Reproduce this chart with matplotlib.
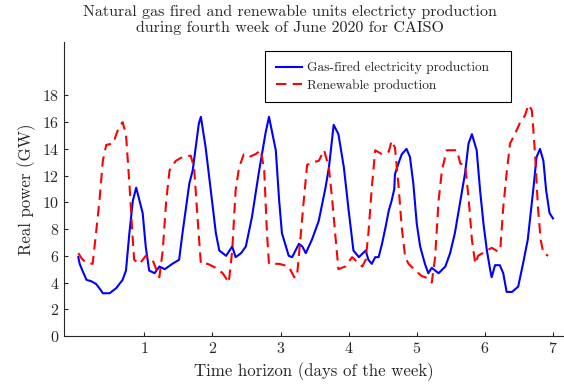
import matplotlib
matplotlib.use("Agg")
import matplotlib.pyplot as plt

plt.rcParams['font.family'] = 'serif'
plt.rcParams['font.serif'] = ['cmr10', 'DejaVu Serif']
plt.rcParams['mathtext.fontset'] = 'cm'
plt.rcParams['axes.unicode_minus'] = False
plt.rcParams['axes.formatter.use_mathtext'] = True

# gas-fired production (GW), time in days
t_gas = [0.03, 0.05, 0.09, 0.15, 0.22, 0.29, 0.35, 0.39, 0.49, 0.59, 0.68, 0.73,
         0.78, 0.83, 0.88, 0.93, 0.975, 1.02, 1.07, 1.15, 1.22, 1.30, 1.41, 1.51,
         1.56, 1.66, 1.71, 1.80, 1.83, 1.90, 1.98, 2.05, 2.10, 2.20, 2.29, 2.34,
         2.42, 2.49, 2.58, 2.68, 2.78, 2.83, 2.93, 2.98, 3.02, 3.12, 3.17, 3.27,
         3.32, 3.37, 3.46, 3.56, 3.66, 3.71, 3.78, 3.85, 3.93, 4.00, 4.07, 4.15,
         4.25, 4.29, 4.34, 4.39, 4.44, 4.49, 4.54, 4.59, 4.63, 4.67, 4.68, 4.73,
         4.78, 4.85, 4.90, 4.95, 5.00, 5.05, 5.12, 5.17, 5.22, 5.32, 5.42, 5.49,
         5.56, 5.64, 5.71, 5.76, 5.81, 5.88, 5.93, 5.98, 6.03, 6.08, 6.10, 6.15,
         6.22, 6.27, 6.32, 6.40, 6.49, 6.56, 6.63, 6.71, 6.76, 6.81, 6.86, 6.90,
         6.95, 7.00]
gas = [5.9, 5.4, 4.9, 4.2, 4.1, 3.9, 3.5, 3.2, 3.2, 3.6, 4.2, 4.9,
       7.7, 10.1, 11.1, 10.1, 9.2, 6.7, 4.9, 4.7, 5.2, 5.0, 5.4, 5.7,
       7.7, 11.4, 12.4, 15.9, 16.4, 14.1, 10.7, 7.7, 6.4, 6.0, 6.7, 5.9,
       6.2, 6.7, 8.9, 12.2, 15.2, 16.4, 13.9, 10.1, 7.7, 6.0, 5.9, 6.9,
       6.7, 6.2, 7.2, 8.6, 11.1, 12.6, 15.8, 15.1, 12.6, 9.4, 6.4, 5.9,
       6.4, 5.7, 5.4, 5.9, 5.9, 6.9, 8.1, 9.4, 10.1, 11.0, 12.1, 12.9,
       13.6, 14.0, 13.4, 11.4, 8.4, 6.7, 5.4, 4.7, 5.1, 4.7, 5.2, 6.2,
       7.7, 10.1, 12.2, 14.4, 15.1, 13.9, 10.9, 8.4, 6.4, 4.9, 4.4, 5.3,
       5.3, 4.7, 3.3, 3.3, 3.7, 5.4, 7.2, 10.9, 13.4, 14.0, 13.1, 10.9,
       9.2, 8.8]

# renewable production (GW), time in days
t_ren = [0.03, 0.08, 0.14, 0.24, 0.29, 0.34, 0.39, 0.44, 0.54, 0.61, 0.68, 0.73,
         0.78, 0.83, 0.85, 0.93, 1.02, 1.12, 1.22, 1.27, 1.32, 1.37, 1.46, 1.56,
         1.68, 1.73, 1.78, 1.83, 1.93, 2.05, 2.15, 2.24, 2.29, 2.34, 2.39, 2.46,
         2.54, 2.63, 2.71, 2.76, 2.80, 2.83, 2.98, 3.12, 3.20, 3.24, 3.29, 3.34,
         3.39, 3.46, 3.56, 3.64, 3.71, 3.76, 3.81, 3.85, 3.95, 4.05, 4.20, 4.25,
         4.29, 4.34, 4.39, 4.49, 4.59, 4.63, 4.68, 4.73, 4.78, 4.83, 4.88, 4.98,
         5.07, 5.17, 5.22, 5.27, 5.32, 5.37, 5.44, 5.51, 5.59, 5.64, 5.71, 5.76,
         5.81, 5.86, 5.90, 6.00, 6.10, 6.20, 6.23, 6.27, 6.32, 6.37, 6.44, 6.52,
         6.59, 6.64, 6.69, 6.71, 6.74, 6.78, 6.82, 6.86, 6.93]
ren = [6.2, 5.8, 5.5, 5.4, 7.7, 10.1, 13.1, 14.3, 14.4, 15.4, 16.0, 15.1,
       11.4, 7.2, 5.7, 5.4, 6.0, 5.7, 4.4, 6.4, 10.1, 12.4, 13.1, 13.4,
       13.5, 12.6, 8.9, 5.4, 5.4, 5.1, 4.7, 4.0, 6.4, 10.9, 12.6, 13.6,
       13.4, 13.6, 13.9, 12.4, 7.7, 5.4, 5.4, 5.2, 4.4, 4.4, 7.2, 10.1,
       12.8, 13.0, 13.1, 13.9, 12.6, 10.1, 7.2, 5.0, 5.2, 5.9, 5.2, 5.7,
       7.7, 11.1, 13.9, 13.6, 13.8, 14.6, 14.1, 11.4, 8.1, 5.9, 5.4, 4.9,
       4.5, 4.3, 4.0, 5.9, 10.1, 12.4, 13.9, 13.9, 13.9, 12.9, 12.8, 10.4,
       7.2, 5.4, 6.0, 6.3, 6.6, 6.3, 6.7, 9.6, 12.2, 14.4, 15.1, 16.0,
       16.5, 17.3, 16.9, 15.6, 13.4, 9.6, 7.2, 6.2, 6.0]

yticks = list(range(0, 20, 2))
xticks = [1, 2, 3, 4, 5, 6, 7]
txt = '#262626'

fig = plt.figure(figsize=(5.64, 3.86), dpi=100)
ax = fig.add_axes([0.1135, 0.1295, 0.885, 0.7617])

ax.plot(t_gas, gas, color='blue', lw=1.5, label='Gas-fired electricity production')
ax.plot(t_ren, ren, color='red', lw=1.5, dashes=(5, 3), label='Renewable production')

ax.set_xlim(-0.18, 7.15)
ax.set_ylim(0, 22)
ax.set_xticks(xticks)
ax.set_yticks(yticks)
for s in ['top', 'right']:
    ax.spines[s].set_visible(False)
for s in ['left', 'bottom']:
    ax.spines[s].set_color(txt)
    ax.spines[s].set_linewidth(0.8)
ax.tick_params(direction='in', length=3, width=0.8, colors=txt, labelsize=11.5)

ax.set_xlabel('Time horizon (days of the week)', fontsize=12.1, color=txt, labelpad=5)
ax.set_ylabel('Real power (GW)', fontsize=12.1, color=txt, labelpad=4)
fig.text(0.514, 1 - 4.5 / 386,
         'Natural gas fired and renewable units electricty production\n'
         'during fourth week of June 2020 for CAISO',
         ha='center', va='top', fontsize=11.5, color=txt, linespacing=1.2)

leg = ax.legend(loc='upper left', bbox_to_anchor=(0.4028, 0.0, 0.493, 0.969),
                mode='expand', fontsize=9.6, fancybox=False, framealpha=1,
                edgecolor='black', borderaxespad=0, handlelength=2.0,
                handletextpad=0.35, borderpad=0.8, labelspacing=0.35)
leg.get_frame().set_linewidth(0.8)
for t in leg.get_texts():
    t.set_color(txt)

fig.savefig('out.png', dpi=100)
